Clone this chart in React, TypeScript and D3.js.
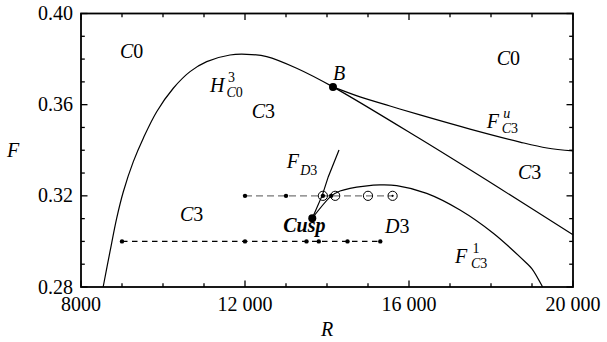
import React from 'react';
import * as d3 from 'd3';

// bifurcation curves (R, F)
const hopfR = [8540, 8707, 8871, 9032, 9276, 9520, 9846, 10251, 10659, 11066, 11634, 12041, 12529, 13260, 14146, 16268, 18220, 20000];
const hopfF = [0.28, 0.2955, 0.3102, 0.3218, 0.335, 0.3453, 0.3569, 0.3672, 0.3745, 0.3789, 0.3818, 0.3821, 0.3811, 0.376, 0.3678, 0.345, 0.3232, 0.3029];
const fcuR = [14146, 14805, 15537, 16268, 17488, 18707, 19366, 20000];
const fcuF = [0.3678, 0.3634, 0.3594, 0.3555, 0.3493, 0.3436, 0.341, 0.3397];
const fclR = [13641, 14114, 14317, 14561, 14927, 15293, 15700, 16432, 17244, 18056, 18870, 19000, 19260];
const fclF = [0.3102, 0.3201, 0.3221, 0.3233, 0.3243, 0.3248, 0.3245, 0.3211, 0.3138, 0.3036, 0.2904, 0.288, 0.28];
const fd3R = [13641, 13886, 14032, 14293];
const fd3F = [0.3102, 0.3203, 0.3284, 0.3401];

const pointB = [14146, 0.3678];
const pointCusp = [13641, 0.3102];

// sample runs
const runHighF = 0.32;
const runHighRange = [12000, 15600];
const runHighDots = [12000, 13000, 13900, 14100];
const runHighCircles = [13900, 14200, 15000, 15600];
const runLowF = 0.3;
const runLowRange = [9000, 15300];
const runLowDots = [9000, 12000, 13500, 13800, 14500, 15300];

const xMajor = [8000, 12000, 16000, 20000];
const xLabels = ['8000', '12 000', '16 000', '20 000'];
const xMinor = d3.range(8000, 20001, 1000);
const yMajor = [0.28, 0.32, 0.36, 0.4];
const yLabels = ['0.28', '0.32', '0.36', '0.40'];
const yMinor = d3.range(0, 13).map((i) => 0.28 + i * 0.01);

const W = 607;
const H = 342;
const ts = { fontFamily: 'Liberation Serif' };

const x = d3.scaleLinear().domain([8000, 20000]).range([81, 573]);
const y = d3.scaleLinear().domain([0.28, 0.4]).range([287, 13.5]);

const zip = (a: number[], b: number[]) => a.map((v, i) => [v, b[i]] as [number, number]);
const line = d3
  .line<[number, number]>()
  .x((d) => x(d[0]))
  .y((d) => y(d[1]))
  .curve(d3.curveCatmullRom.alpha(0.5));
const straight = d3
  .line<[number, number]>()
  .x((d) => x(d[0]))
  .y((d) => y(d[1]));

// italic letter + upright digit, e.g. C0, C3, D3
const Sym = ({ s }: { s: string }) => (
  <>
    <tspan fontStyle="italic">{s[0]}</tspan>
    <tspan>{s.slice(1)}</tspan>
  </>
);

const Label = ({ r, f, s }: { r: number; f: number; s: string }) => (
  <text x={x(r)} y={y(f)} fontSize={20} style={ts}>
    <Sym s={s} />
  </text>
);

// F/H with sub and optional superscript
const Curve = ({ r, f, main, sub, sup, off }: { r: number; f: number; main: string; sub: string; sup?: string; off: number }) => {
  const px = x(r);
  const py = y(f);
  return (
    <g>
      <text x={px} y={py} fontSize={20} fontStyle="italic" style={ts}>{main}</text>
      {sup && (
        <text x={px + off + 1.5} y={py - 10} fontSize={14} fontStyle={sup === 'u' ? 'italic' : 'normal'} style={ts}>{sup}</text>
      )}
      <text x={px + off} y={py + 5} fontSize={14} style={ts}>
        <Sym s={sub} />
      </text>
    </g>
  );
};

export default function App() {
  const [x0, x1] = x.range();
  const [y0, y1] = y.range();
  return (
    <svg width={W} height={H} style={{ position: 'absolute', left: 0, top: 0, background: '#fff' }}>
      {/* runs */}
      <line x1={x(runHighRange[0])} x2={x(runHighRange[1])} y1={y(runHighF)} y2={y(runHighF)} stroke="#777" strokeWidth={1.3} strokeDasharray="7,4" />
      <line x1={x(runLowRange[0])} x2={x(runLowRange[1])} y1={y(runLowF)} y2={y(runLowF)} stroke="#000" strokeWidth={1.1} strokeDasharray="5.5,4.5" />

      {/* curves */}
      <path d={line(zip(hopfR, hopfF)) || ''} fill="none" stroke="#000" strokeWidth={1.2} />
      <path d={line(zip(fcuR, fcuF)) || ''} fill="none" stroke="#000" strokeWidth={1.2} />
      <path d={line(zip(fclR, fclF)) || ''} fill="none" stroke="#000" strokeWidth={1.2} />
      <path d={straight(zip(fd3R, fd3F)) || ''} fill="none" stroke="#000" strokeWidth={1.2} />

      {runHighCircles.map((r) => (
        <circle key={'c' + r} cx={x(r)} cy={y(runHighF)} r={4.6} fill="none" stroke="#000" strokeWidth={1} />
      ))}
      <circle cx={x(runHighCircles[3])} cy={y(runHighF)} r={1.1} fill="#000" />
      {runHighDots.map((r) => (
        <circle key={'h' + r} cx={x(r)} cy={y(runHighF)} r={2.2} fill="#000" />
      ))}
      {runLowDots.map((r) => (
        <circle key={'l' + r} cx={x(r)} cy={y(runLowF)} r={2.2} fill="#000" />
      ))}
      <circle cx={x(pointB[0])} cy={y(pointB[1])} r={4} fill="#000" />
      <circle cx={x(pointCusp[0])} cy={y(pointCusp[1])} r={4} fill="#000" />

      {/* frame and ticks */}
      <rect x={x0} y={y1} width={x1 - x0} height={y0 - y1} fill="none" stroke="#000" strokeWidth={1.8} />
      {xMinor.map((v) => {
        const len = xMajor.includes(v) ? 6.5 : 3.8;
        return (
          <g key={'xt' + v} stroke="#000" strokeWidth={1.3}>
            <line x1={x(v)} x2={x(v)} y1={y0} y2={y0 - len} />
            <line x1={x(v)} x2={x(v)} y1={y1} y2={y1 + len} />
          </g>
        );
      })}
      {yMinor.map((v, i) => {
        const len = i % 4 === 0 ? 6.5 : 3.8;
        return (
          <g key={'yt' + i} stroke="#000" strokeWidth={1.3}>
            <line x1={x0} x2={x0 + len} y1={y(v)} y2={y(v)} />
            <line x1={x1} x2={x1 - len} y1={y(v)} y2={y(v)} />
          </g>
        );
      })}
      {xMajor.map((v, i) => (
        <text key={'xl' + v} x={x(v)} y={y0 + 24} fontSize={20} textAnchor="middle" style={ts}>{xLabels[i]}</text>
      ))}
      {yMajor.map((v, i) => (
        <text key={'yl' + v} x={73} y={y(v)} dy="0.33em" fontSize={20} textAnchor="end" style={ts}>{yLabels[i]}</text>
      ))}
      <text x={13} y={157} fontSize={20} fontStyle="italic" textAnchor="middle" style={ts}>F</text>
      <text x={(x0 + x1) / 2} y={336} fontSize={20} fontStyle="italic" textAnchor="middle" style={ts}>R</text>

      {/* region and curve labels */}
      <Label r={8951} f={0.3805} s="C0" />
      <Label r={18139} f={0.3774} s="C0" />
      <Label r={12163} f={0.3542} s="C3" />
      <Label r={18658} f={0.3274} s="C3" />
      <Label r={10415} f={0.309} s="C3" />
      <Label r={15415} f={0.3037} s="D3" />
      <text x={x(14146)} y={y(0.3708)} fontSize={20} fontStyle="italic" style={ts}>B</text>
      <text x={x(12934)} y={y(0.3043)} fontSize={20} fontStyle="italic" fontWeight="bold" style={ts}>Cusp</text>
      <Curve r={11146} f={0.3657} main="H" sub="C0" sup="3" off={16.5} />
      <Curve r={17895} f={0.3498} main="F" sub="C3" sup="u" off={15} />
      <Curve r={17122} f={0.2906} main="F" sub="C3" sup="1" off={16} />
      <g>
        <text x={x(13017)} y={y(0.3322)} fontSize={20} fontStyle="italic" style={ts}>F</text>
        <text x={x(13017) + 13.5} y={y(0.3322) + 7} fontSize={14} style={ts}>
          <Sym s="D3" />
        </text>
      </g>
    </svg>
  );
}
